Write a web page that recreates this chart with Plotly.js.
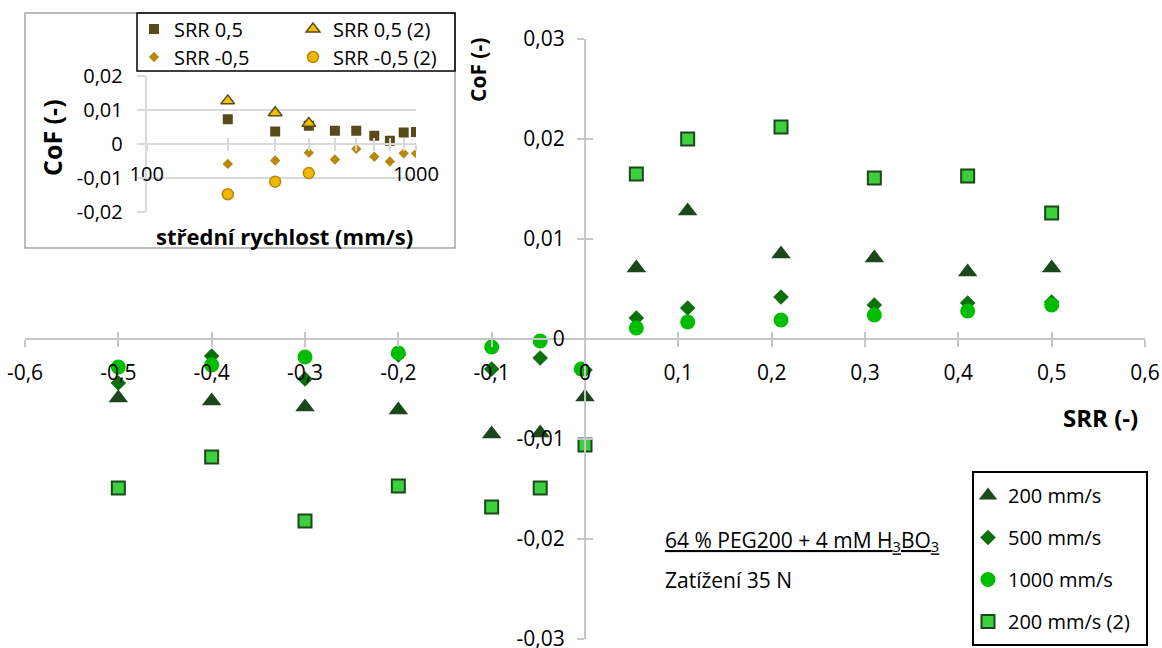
<!DOCTYPE html>
<html><head><meta charset="utf-8">
<script src="https://cdn.plot.ly/plotly-3.0.1.min.js"></script>
<style>html,body{margin:0;padding:0;background:#fff}#chart{width:1162px;height:648px}</style>
</head><body><div id="chart"></div>
<script>
// ---------- main chart data ----------
const srr      = [-0.5, -0.4, -0.3, -0.2, -0.1, -0.048, 0, 0.055, 0.11, 0.21, 0.31, 0.41, 0.5];
const srr1000  = [-0.5, -0.4, -0.3, -0.2, -0.1, -0.048, -0.004, 0.055, 0.11, 0.21, 0.31, 0.41, 0.5];
const cof200   = [-0.0059, -0.0062, -0.0068, -0.0071, -0.0095, -0.0094, -0.0058, 0.0071, 0.0128, 0.0085, 0.0081, 0.0067, 0.0071];
const cof500   = [-0.0044, -0.0017, -0.0040, -0.0016, -0.0030, -0.0019, -0.0031, 0.0021, 0.0031, 0.0042, 0.0034, 0.0036, 0.0037];
const cof1000  = [-0.0028, -0.0026, -0.0018, -0.0014, -0.0008, -0.0002, -0.0030, 0.0011, 0.0017, 0.0019, 0.0024, 0.0028, 0.0034];
const cof200b  = [-0.0149, -0.0118, -0.0182, -0.0147, -0.0168, -0.0149, -0.0106, 0.0165, 0.0200, 0.0212, 0.0161, 0.0163, 0.0126];
const mainNames = ['200 mm/s', '500 mm/s', '1000 mm/s', '200 mm/s (2)'];
const xTickVals = [-0.6, -0.5, -0.4, -0.3, -0.2, -0.1, 0, 0.1, 0.2, 0.3, 0.4, 0.5, 0.6];
const xTickText = ['-0,6', '-0,5', '-0,4', '-0,3', '-0,2', '-0,1', '0', '0,1', '0,2', '0,3', '0,4', '0,5', '0,6'];
const yTickVals = [-0.03, -0.02, -0.01, 0, 0.01, 0.02, 0.03];
const yTickText = ['-0,03', '-0,02', '-0,01', '0', '0,01', '0,02', '0,03'];

// ---------- inset chart data ----------
const speeds     = [200, 300, 400, 500, 600, 700, 800, 900, 1000];
const speeds2    = [200, 300, 400];
const cofSrrPos  = [0.0073, 0.0037, 0.0054, 0.0039, 0.0039, 0.0025, 0.0010, 0.0034, 0.0036];
const cofSrrPos2 = [0.0127, 0.0092, 0.0061];
const cofSrrNeg  = [-0.0058, -0.0048, -0.0025, -0.0045, -0.0014, -0.0037, -0.0051, -0.0027, -0.0027];
const cofSrrNeg2 = [-0.0147, -0.0110, -0.0085];
const insetNames = ['SRR 0,5', 'SRR 0,5 (2)', 'SRR -0,5', 'SRR -0,5 (2)'];
const insetXMajorVals = [100, 1000];
const insetXMajorText = ['100', '1000'];
const insetXMinorVals = [200, 300, 400, 500, 600, 700, 800, 900];
const insetXAllVals   = [100, 200, 300, 400, 500, 600, 700, 800, 900, 1000];
const insetYTickVals = [-0.02, -0.01, 0, 0.01, 0.02];
const insetYTickText = ['-0,02', '-0,01', '0', '0,01', '0,02'];

// ---------- geometry helpers (pixel -> paper) ----------
const L = 25, T = 39, W = 1120, H = 600;
const fx = p => (p - L) / W;
const fy = p => (T + H - p) / H;

const AX = '#c6c6c6';
const GRID = '#d9d9d9';
const FONT = 'Open Sans, Noto Sans, sans-serif';

const traces = [
  {x: srr, y: cof200, name: mainNames[0], type: 'scatter', mode: 'markers', legend: 'legend', legendgroup: 'a',
   marker: {symbol: 'triangle-up', size: 17, color: '#1b481b'}},
  {x: srr, y: cof500, name: mainNames[1], type: 'scatter', mode: 'markers', legend: 'legend', legendgroup: 'b',
   marker: {symbol: 'diamond', size: 12, color: '#0b720b'}},
  {x: srr1000, y: cof1000, name: mainNames[2], type: 'scatter', mode: 'markers', legend: 'legend', legendgroup: 'c',
   marker: {symbol: 'circle', size: 15, color: '#00bd00'}},
  {x: srr, y: cof200b, name: mainNames[3], type: 'scatter', mode: 'markers', legend: 'legend', legendgroup: 'd',
   marker: {symbol: 'square', size: 13, color: '#3dcf3d', line: {color: '#1b481b', width: 2}}},
  // inset
  {x: speeds, y: cofSrrPos, name: insetNames[0], type: 'scatter', mode: 'markers', xaxis: 'x2', yaxis: 'y2', legend: 'legend2',
   marker: {symbol: 'square', size: 10, color: '#594a1c'}},
  {x: speeds2, y: cofSrrPos2, name: insetNames[1], type: 'scatter', mode: 'markers', xaxis: 'x2', yaxis: 'y2', legend: 'legend2',
   marker: {symbol: 'triangle-up', size: 12, color: '#f2c000', line: {color: '#594a1c', width: 1.5}}},
  {x: speeds, y: cofSrrNeg, name: insetNames[2], type: 'scatter', mode: 'markers', xaxis: 'x2', yaxis: 'y2', legend: 'legend3',
   marker: {symbol: 'diamond', size: 8, color: '#b8870b'}},
  {x: speeds2, y: cofSrrNeg2, name: insetNames[3], type: 'scatter', mode: 'markers', xaxis: 'x2', yaxis: 'y2', legend: 'legend3',
   marker: {symbol: 'circle', size: 11, color: '#f0b900', line: {color: '#b8870b', width: 1.5}}},
  // helpers for the inner half of the crossing tick marks
  {x: [null], y: [null], type: 'scatter', mode: 'markers', xaxis: 'x3', yaxis: 'y3', showlegend: false, hoverinfo: 'skip'},
  {x: [null], y: [null], type: 'scatter', mode: 'markers', xaxis: 'x4', yaxis: 'y2', showlegend: false, hoverinfo: 'skip'}
];

const insetMid = (fy(212.3) + fy(76)) / 2;

const layout = {
  width: 1162, height: 648,
  margin: {l: L, r: 1162 - L - W, t: T, b: 648 - T - H, autoexpand: false},
  paper_bgcolor: '#ffffff', plot_bgcolor: 'rgba(0,0,0,0)',
  font: {family: FONT, color: '#000000', size: 20},
  separators: ', ',
  xaxis: {domain: [0, 1], range: [-0.6, 0.6], anchor: 'free', position: 0.5,
    showline: true, linecolor: AX, linewidth: 2, ticks: 'outside', ticklen: 7, tickwidth: 2, tickcolor: AX,
    tickmode: 'array', tickvals: xTickVals, ticktext: xTickText, tickfont: {size: 21, color: '#000'},
    showgrid: false, zeroline: false, ticklabelstandoff: 8, ticklabeloverflow: 'allow', fixedrange: true},
  yaxis: {domain: [0, 1], range: [-0.03, 0.03], anchor: 'free', position: 0.5,
    showline: true, linecolor: AX, linewidth: 2, ticks: 'outside', ticklen: 7, tickwidth: 2, tickcolor: AX,
    tickmode: 'array', tickvals: yTickVals, ticktext: yTickText, tickfont: {size: 21, color: '#000'},
    showgrid: false, zeroline: false, ticklabelstandoff: 8, ticklabeloverflow: 'allow', fixedrange: true},
  xaxis3: {overlaying: 'x', range: [-0.6, 0.6], anchor: 'free', position: 0.5, showline: false,
    ticks: 'inside', ticklen: 7, tickwidth: 2, tickcolor: AX, tickmode: 'array', tickvals: xTickVals,
    showticklabels: false, showgrid: false, zeroline: false, fixedrange: true},
  yaxis3: {overlaying: 'y', range: [-0.03, 0.03], anchor: 'free', position: 0.5, showline: false,
    ticks: 'inside', ticklen: 7, tickwidth: 2, tickcolor: AX, tickmode: 'array', tickvals: yTickVals,
    showticklabels: false, showgrid: false, zeroline: false, fixedrange: true},
  xaxis2: {domain: [fx(146.7), fx(416)], type: 'log', range: [2, 3], anchor: 'free', position: insetMid,
    showline: true, linecolor: GRID, linewidth: 2, ticks: 'outside', ticklen: 6, tickwidth: 2, tickcolor: GRID,
    tickmode: 'array', tickvals: insetXMajorVals, ticktext: insetXMajorText, tickfont: {size: 20, color: '#000'},
    minor: {tickmode: 'array', tickvals: insetXMinorVals, ticks: 'outside', ticklen: 6, tickwidth: 2, tickcolor: GRID, showgrid: false},
    showgrid: false, zeroline: false, ticklabelstandoff: 6, ticklabeloverflow: 'allow', fixedrange: true},
  xaxis4: {overlaying: 'x2', type: 'log', range: [2, 3], anchor: 'free', position: insetMid, showline: false,
    ticks: 'inside', ticklen: 6, tickwidth: 2, tickcolor: GRID, tickmode: 'array', tickvals: insetXAllVals,
    showticklabels: false, showgrid: false, zeroline: false, fixedrange: true},
  yaxis2: {domain: [fy(212.3), fy(76)], range: [-0.02, 0.02], anchor: 'x2',
    showline: true, linecolor: GRID, linewidth: 2, ticks: 'outside', ticklen: 8, tickwidth: 2, tickcolor: GRID,
    tickmode: 'array', tickvals: insetYTickVals, ticktext: insetYTickText, tickfont: {size: 20, color: '#000'},
    showgrid: true, gridcolor: GRID, gridwidth: 2, zeroline: false, ticklabelstandoff: 10, fixedrange: true},
  legend: {x: fx(968), y: fy(476), xanchor: 'left', yanchor: 'top', bgcolor: 'rgba(0,0,0,0)', borderwidth: 0,
    font: {size: 20, color: '#000'}, tracegroupgap: 13, traceorder: 'grouped'},
  legend2: {orientation: 'h', x: fx(134), y: fy(29), xanchor: 'left', yanchor: 'middle', bgcolor: 'rgba(0,0,0,0)',
    borderwidth: 0, entrywidth: 114, entrywidthmode: 'pixels', font: {size: 20, color: '#000'}},
  legend3: {orientation: 'h', x: fx(134), y: fy(57), xanchor: 'left', yanchor: 'middle', bgcolor: 'rgba(0,0,0,0)',
    borderwidth: 0, entrywidth: 114, entrywidthmode: 'pixels', font: {size: 20, color: '#000'}},
  shapes: [
    {type: 'rect', xref: 'paper', yref: 'paper', x0: fx(25), x1: fx(455), y0: fy(248), y1: fy(13),
     line: {color: '#a6a6a6', width: 1.5}, fillcolor: '#ffffff', layer: 'below'},
    {type: 'rect', xref: 'paper', yref: 'paper', x0: fx(137), x1: fx(455), y0: fy(71), y1: fy(13),
     line: {color: '#000000', width: 1.5}, fillcolor: 'rgba(0,0,0,0)', layer: 'above'},
    {type: 'rect', xref: 'paper', yref: 'paper', x0: fx(973), x1: fx(1147), y0: fy(645), y1: fy(472),
     line: {color: '#000000', width: 2}, fillcolor: 'rgba(0,0,0,0)', layer: 'above'}
  ],
  annotations: [
    {text: '<b>CoF (-)</b>', xref: 'paper', yref: 'paper', x: fx(478), y: fy(70), xanchor: 'center', yanchor: 'middle',
     textangle: -90, showarrow: false, font: {size: 21}},
    {text: '<b>SRR (-)</b>', xref: 'paper', yref: 'paper', x: fx(1100), y: fy(417), xanchor: 'center', yanchor: 'middle',
     showarrow: false, font: {size: 24}},
    {text: '<b>CoF (-)</b>', xref: 'paper', yref: 'paper', x: fx(52), y: fy(138), xanchor: 'center', yanchor: 'middle',
     textangle: -90, showarrow: false, font: {size: 25}},
    {text: '<b>střední rychlost (mm/s)</b>', xref: 'paper', yref: 'paper', x: fx(284), y: fy(236), xanchor: 'center', yanchor: 'middle',
     showarrow: false, font: {size: 22}},
    {text: '64 % PEG200 + 4 mM H<sub>3</sub>BO<sub>3</sub>', xref: 'paper', yref: 'paper', x: fx(663), y: fy(541),
     xanchor: 'left', yanchor: 'middle', showarrow: false, font: {size: 21, lineposition: 'under'}},
    {text: 'Zatížení 35 N', xref: 'paper', yref: 'paper', x: fx(663), y: fy(580),
     xanchor: 'left', yanchor: 'middle', showarrow: false, font: {size: 21}}
  ]
};

Plotly.newPlot('chart', traces, layout, {displayModeBar: false, staticPlot: true});
</script>
</body></html>
